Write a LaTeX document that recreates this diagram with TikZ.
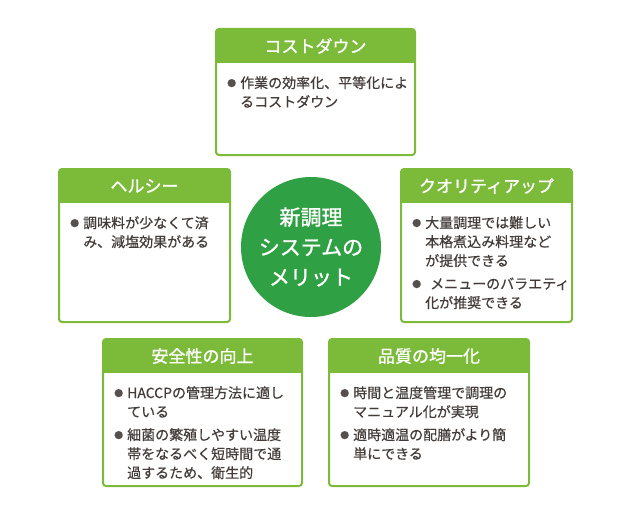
\documentclass[tikz,border=0pt]{standalone}
\usepackage{fontspec}
\setmainfont{Noto Sans CJK JP}[FakeBold=0.4]
\newfontfamily\headfont{Noto Sans CJK JP}[FakeBold=1.2]
\usetikzlibrary{positioning}
\definecolor{leafGreen}{HTML}{7CBA3A}
\definecolor{deepGreen}{HTML}{2FA043}
\definecolor{bodyText}{HTML}{433C39}
\definecolor{dotGray}{HTML}{55504D}
\newcommand{\bul}{\makebox[13pt][l]{\raisebox{1.5pt}{\color{dotGray}\fontsize{9pt}{9pt}\selectfont ●}}}
\newcommand{\ind}{\hspace*{13pt}}
\tikzset{
  card/.style={draw=leafGreen, line width=2pt, fill=white, rounded corners=3pt,
               inner sep=0pt, outer sep=0pt},
  cardhead/.style={fill=leafGreen, text=white, font=\headfont\fontsize{17pt}{20pt}\selectfont,
                   inner sep=0pt, outer sep=0pt, minimum height=34pt, anchor=north},
  cardtext/.style={text=bodyText, font=\fontsize{14pt}{19pt}\selectfont, align=left, inner sep=0pt}
}
\begin{document}
\begin{tikzpicture}[x=1pt, y=-1pt]
  \useasboundingbox (0,0) rectangle (620,519);

  % centre circle
  \node[circle, fill=deepGreen, minimum size=140pt, inner sep=0pt, text=white, align=center,
        font=\headfont\fontsize{21pt}{30pt}\selectfont] (merit) at (311,247) {新調理\\システムの\\メリット};

  % cost down
  \node[card, minimum width=199pt, minimum height=126pt] (cost) at (315.5,92) {};
  \node[cardhead, minimum width=199pt] (cost-hd) at (cost.north) {コストダウン};
  \node[cardtext, below right=13pt and 11pt of cost-hd.south west] (cost-txt)
    {\bul 作業の効率化、平等化によ\\\ind るコストダウン};

  % healthy
  \node[card, minimum width=171pt, minimum height=153pt] (healthy) at (144.5,245.5) {};
  \node[cardhead, minimum width=171pt] (healthy-hd) at (healthy.north) {ヘルシー};
  \node[cardtext, below right=13pt and 11pt of healthy-hd.south west] (healthy-txt)
    {\bul 調味料が少なくて済\\\ind み、減塩効果がある};

  % quality up
  \node[card, minimum width=171pt, minimum height=153pt] (quality) at (486.5,245.5) {};
  \node[cardhead, minimum width=171pt] (quality-hd) at (quality.north) {クオリティアップ};
  \node[cardtext, below right=13pt and 11pt of quality-hd.south west] (quality-txt)
    {\bul 大量調理では難しい\\\ind 本格煮込み料理など\\\ind が提供できる\\[4pt]
     \bul\hspace{5pt}メニューのバラエティ\\\ind 化が推奨できる};

  % safety
  \node[card, minimum width=199pt, minimum height=147pt] (safety) at (202.5,412.5) {};
  \node[cardhead, minimum width=199pt] (safety-hd) at (safety.north) {安全性の向上};
  \node[cardtext, below right=13pt and 11pt of safety-hd.south west] (safety-txt)
    {\bul HACCPの管理方法に適し\\\ind ている\\[4pt]
     \bul 細菌の繁殖しやすい温度\\\ind 帯をなるべく短時間で通\\\ind 過するため、衛生的};

  % uniform quality
  \node[card, minimum width=200pt, minimum height=147pt] (uniform) at (429,412.5) {};
  \node[cardhead, minimum width=200pt] (uniform-hd) at (uniform.north) {品質の均一化};
  \node[cardtext, below right=13pt and 11pt of uniform-hd.south west] (uniform-txt)
    {\bul 時間と温度管理で調理の\\\ind マニュアル化が実現\\[4pt]
     \bul 適時適温の配膳がより簡\\\ind 単にできる};
\end{tikzpicture}
\end{document}
